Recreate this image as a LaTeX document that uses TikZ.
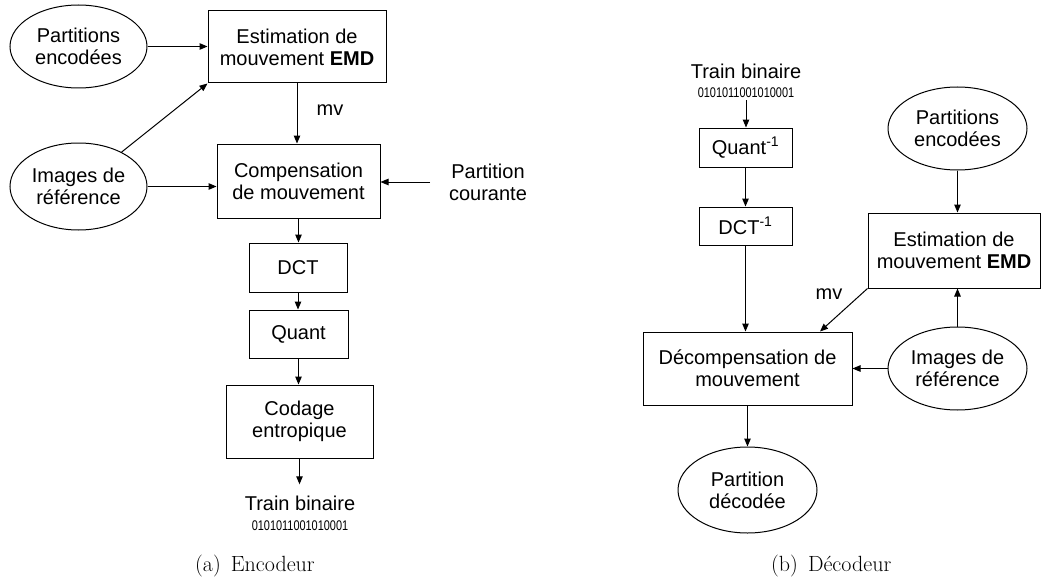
\documentclass[tikz,border=0pt]{standalone}
\usepackage{fontspec}
\usepackage{graphicx}
\newfontfamily\arial{Liberation Sans}
\usetikzlibrary{shapes.geometric,arrows.meta,calc}
\tikzset{
  txt/.style={font=\arial\fontsize{20}{22}\selectfont, align=center, inner sep=0pt},
  box/.style={txt, draw, line width=1pt},
  ell/.style={txt, draw, ellipse, line width=1pt},
  arr/.style={-{Triangle[length=8pt,width=6.5pt]}, line width=1pt},
  captxt/.style={font=\fontsize{22}{24}\selectfont, inner sep=0pt, anchor=base west}
}
\newcommand{\bitstr}{\scalebox{0.78}[1]{\arial\fontsize{14}{14}\selectfont 0101011001010001}}
\begin{document}
\begin{tikzpicture}[x=1pt,y=-1pt]
\useasboundingbox (0,0) rectangle (1042,578);
% ---------------- Encodeur ----------------
\node[ell, minimum width=137pt, minimum height=83pt] (partE) at (78.5,46.5) {Partitions\\encodées};
\node[ell, minimum width=137pt, minimum height=87pt] (imgE) at (78.5,186.5) {Images de\\référence};
\node[box, minimum width=178pt, minimum height=72pt] (emdE) at (297,47) {Estimation de\\mouvement \textbf{EMD}};
\node[box, minimum width=163pt, minimum height=74pt] (compE) at (298.5,181) {Compensation\\de mouvement};
\node[txt] (pc) at (488,182) {Partition\\courante};
\coordinate (pcin) at (430,182);
\node[txt] (mvE) at (330,110) {mv};
\node[box, minimum width=98pt, minimum height=49pt] (dctE) at (298,267.5) {DCT};
\node[box, minimum width=99pt, minimum height=48pt] (quantE) at (298.5,334) {Quant};
\node[box, minimum width=147pt, minimum height=73pt] (codE) at (299.5,421.5) {Codage\\entropique};
\node[txt, anchor=base, inner sep=3pt] (tbE) at (300,510) {Train binaire};
\node[anchor=base, inner sep=0pt] (bitsE) at (300,530) {\bitstr};
\draw[arr] (partE.east) -- (emdE.west |- partE.east);
\draw[arr] (imgE) -- (emdE.south west);
\draw[arr] (imgE.east) -- (imgE.east -| compE.west);
\draw[arr] (pcin) -- (compE.east |- pcin);
\draw[arr] (emdE.south) -- (emdE.south |- compE.north);
\draw[arr] (compE.south) -- (compE.south |- dctE.north);
\draw[arr] (dctE.south) -- (dctE.south |- quantE.north);
\draw[arr] (quantE.south) -- (quantE.south |- codE.north);
\draw[arr] (codE.south) -- ([yshift=8pt]codE.south |- tbE.north);
\node[captxt] (capA) at (195,571) {(a)\hspace{10pt}Encodeur};
% ---------------- Décodeur ----------------
\node[txt, anchor=base] (tbD) at (746,78) {Train binaire};
\node[anchor=base, inner sep=3pt] (bitsD) at (746,97) {\bitstr};
\node[box, minimum width=93pt, minimum height=39pt] (quantD) at (745.5,147.5) {Quant\textsuperscript{-1}};
\node[box, minimum width=93pt, minimum height=38pt] (dctD) at (745.5,226) {DCT\textsuperscript{-1}};
\node[box, minimum width=209pt, minimum height=73pt] (decD) at (747.5,368.5) {Décompensation de\\mouvement};
\node[box, minimum width=172pt, minimum height=75pt] (emdD) at (954,250.5) {Estimation de\\mouvement \textbf{EMD}};
\node[ell, minimum width=139pt, minimum height=83pt] (partD) at (957.5,128.5) {Partitions\\encodées};
\node[ell, minimum width=139pt, minimum height=83pt] (imgD) at (957.5,368.5) {Images de\\référence};
\node[ell, minimum width=139pt, minimum height=86pt] (outD) at (747.5,490) {Partition\\décodée};
\node[txt] (mvD) at (829,294) {mv};
\draw[arr] (bitsD.south) -- (bitsD.south |- quantD.north);
\draw[arr] (quantD.south) -- (quantD.south |- dctD.north);
\draw[arr] (dctD.south) -- (dctD.south |- decD.north);
\draw[arr] (partD.south) -- (partD.south |- emdD.north);
\draw[arr] (imgD.north) -- (imgD.north |- emdD.south);
\draw[arr] (imgD.west) -- (imgD.west -| decD.east);
\draw[arr] (emdD.south west) -- ([xshift=72.5pt]decD.north);
\draw[arr] (decD.south) -- (decD.south |- outD.north);
\node[captxt] (capB) at (771,571) {(b)\hspace{10pt}Décodeur};
\end{tikzpicture}
\end{document}
